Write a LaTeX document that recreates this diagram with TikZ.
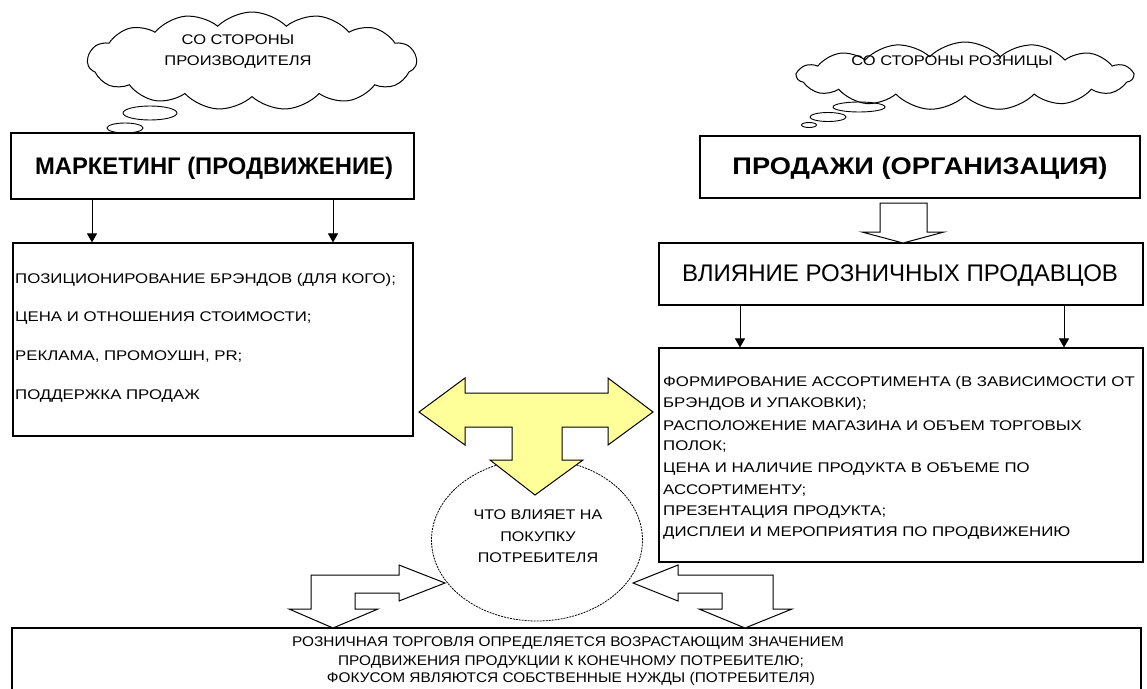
\documentclass[tikz,border=0pt]{standalone}
\usepackage{fontspec}
\setmainfont{Liberation Sans}
\usepackage{graphicx}
\usetikzlibrary{shapes.symbols,shapes.geometric,arrows.meta,calc}
\newcommand\hx[2]{\scalebox{#1}[1]{#2}}
\definecolor{lyellow}{HTML}{FFFF99}
\begin{document}
\begin{tikzpicture}[x=1pt,y=-1pt,
  box/.style={draw, line width=1.1pt, inner sep=0pt, fill=white},
  sm/.style={font=\fontsize{14}{16}\selectfont, inner sep=0pt},
  lft/.style={sm, anchor=west},
  arr/.style={line width=1pt, -{Triangle[width=10pt,length=9pt]}},
  hollow/.style={draw, line width=1pt, fill=white, line join=miter},
  thought/.style={cloud, draw, line width=1pt, cloud puffs=15, cloud puff arc=90, cloud ignores aspect, inner sep=0pt},
  bub/.style={draw, line width=0.9pt}
]
\useasboundingbox (0,0) rectangle (1147,688);
\clip (0,0) rectangle (1147,688);
\fill[white] (0,0) rectangle (1147,688);

% clouds
\node[thought, minimum width=329pt, minimum height=98pt] (c1) at (252,61) {};
\node[sm] (c1a) at (238,40) {\hx{1.18}{СО СТОРОНЫ}};
\node[sm] (c1b) at (238,62) {\hx{1.18}{ПРОИЗВОДИТЕЛЯ}};
\draw[bub] (150,113) ellipse [x radius=27, y radius=7];
\draw[bub] (125,128) ellipse [x radius=18, y radius=5];
\draw[bub] (109,135) ellipse [x radius=8, y radius=2.5];

\node[thought, minimum width=336pt, minimum height=68pt] (c2) at (965,76) {};
\node[sm] (c2a) at (952,62) {\hx{1.18}{СО СТОРОНЫ РОЗНИЦЫ}};
\draw[bub] (859,107) ellipse [x radius=26, y radius=5];
\draw[bub] (828,117) ellipse [x radius=18, y radius=4.5];
\draw[bub] (809,125) ellipse [x radius=7.5, y radius=2.5];

% main boxes
\node[box, minimum width=403pt, minimum height=66pt] (mark) at (212.5,166) {};
\node[inner sep=0pt] (markt) at (214,168) {\resizebox{358pt}{\height}{\fontsize{24}{27}\selectfont\bfseries МАРКЕТИНГ (ПРОДВИЖЕНИЕ)}};

\node[box, minimum width=440pt, minimum height=62pt] (prod) at (920,167) {};
\node[inner sep=0pt] (prodt) at (920,168) {\resizebox{375pt}{\height}{\fontsize{24}{27}\selectfont\bfseries ПРОДАЖИ (ОРГАНИЗАЦИЯ)}};

\node[box, minimum width=484pt, minimum height=62pt] (vli) at (901,274) {};
\node[inner sep=0pt] (vlit) at (900,276) {\resizebox{436pt}{\height}{\fontsize{24}{27}\selectfont ВЛИЯНИЕ РОЗНИЧНЫХ ПРОДАВЦОВ}};

\node[box, minimum width=400pt, minimum height=193pt] (lbox) at (213,339.5) {};
\node[lft] (l1) at (15,280) {\hx{1.2}{ПОЗИЦИОНИРОВАНИЕ БРЭНДОВ (ДЛЯ КОГО);}};
\node[lft] (l2) at (15,318) {\hx{1.2}{ЦЕНА И ОТНОШЕНИЯ СТОИМОСТИ;}};
\node[lft] (l3) at (15,357) {\hx{1.2}{РЕКЛАМА, ПРОМОУШН, PR;}};
\node[lft] (l4) at (15,396) {\hx{1.2}{ПОДДЕРЖКА ПРОДАЖ}};

\node[box, minimum width=484pt, minimum height=214pt] (rbox) at (901,455) {};
\node[lft] (r1) at (663,383) {\hx{1.2}{ФОРМИРОВАНИЕ АССОРТИМЕНТА (В ЗАВИСИМОСТИ ОТ}};
\node[lft] (r2) at (663,404) {\hx{1.2}{БРЭНДОВ И УПАКОВКИ);}};
\node[lft] (r3) at (663,426) {\hx{1.2}{РАСПОЛОЖЕНИЕ МАГАЗИНА И ОБЪЕМ ТОРГОВЫХ}};
\node[lft] (r4) at (663,447) {\hx{1.2}{ПОЛОК;}};
\node[lft] (r5) at (663,469) {\hx{1.2}{ЦЕНА И НАЛИЧИЕ ПРОДУКТА В ОБЪЕМЕ ПО}};
\node[lft] (r6) at (663,490) {\hx{1.2}{АССОРТИМЕНТУ;}};
\node[lft] (r7) at (663,512) {\hx{1.2}{ПРЕЗЕНТАЦИЯ ПРОДУКТА;}};
\node[lft] (r8) at (663,533) {\hx{1.2}{ДИСПЛЕИ И МЕРОПРИЯТИЯ ПО ПРОДВИЖЕНИЮ}};

% bottom box
\node[box, minimum width=1129pt, minimum height=80pt] (bbox) at (576.5,668) {};
\node[sm] (b1) at (568,643) {\hx{1.1}{РОЗНИЧНАЯ ТОРГОВЛЯ ОПРЕДЕЛЯЕТСЯ ВОЗРАСТАЮЩИМ ЗНАЧЕНИЕМ}};
\node[sm] (b2) at (571,662) {\hx{1.1}{ПРОДВИЖЕНИЯ ПРОДУКЦИИ К КОНЕЧНОМУ ПОТРЕБИТЕЛЮ;}};
\node[sm] (b3) at (571,679) {\hx{1.1}{ФОКУСОМ ЯВЛЯЮТСЯ СОБСТВЕННЫЕ НУЖДЫ (ПОТРЕБИТЕЛЯ)}};

% ellipse
\node[ellipse, draw, line width=0.8pt, dash pattern=on 2pt off 1pt, minimum width=211pt, minimum height=162pt, inner sep=0pt] (q) at (537,540) {};
\node[sm] (q1) at (538,515) {\hx{1.15}{ЧТО ВЛИЯЕТ НА}};
\node[sm] (q2) at (538,537) {\hx{1.15}{ПОКУПКУ}};
\node[sm] (q3) at (538,558) {\hx{1.15}{ПОТРЕБИТЕЛЯ}};

% thin arrows
\coordinate (xa) at (92,0);
\coordinate (xb) at (333,0);
\coordinate (xc) at (740,0);
\coordinate (xd) at (1064,0);
\draw[arr] (xa |- mark.south) -- (xa |- lbox.north);
\draw[arr] (xb |- mark.south) -- (xb |- lbox.north);
\draw[arr] (xc |- vli.south) -- (xc |- rbox.north);
\draw[arr] (xd |- vli.south) -- (xd |- rbox.north);

% hollow arrow prod -> vli
\draw[hollow] (880,203) -- (880,232) -- (862,232) -- (903,243) -- (944,232) -- (927,232) -- (927,203) -- cycle;

% yellow T arrow
\draw[line width=1pt, fill=lyellow, line join=miter]
 (419,412) -- (465,378) -- (465,393) -- (608,393) -- (608,378) -- (653,412)
 -- (608,445) -- (608,427) -- (562,427) -- (562,460) -- (583,460) -- (535,495)
 -- (490,460) -- (512,460) -- (512,427) -- (465,427) -- (465,445) -- cycle;

% bottom hollow bent arrows
\draw[hollow] (445,583) -- (399,565) -- (399,575) -- (311,575) -- (311,609) -- (289,609)
 -- (333,628) -- (378,609) -- (355,609) -- (355,593) -- (399,593) -- (399,601) -- cycle;
\draw[hollow] (633,583) -- (678,565) -- (678,575) -- (773,575) -- (773,609) -- (792,609)
 -- (745,628) -- (699,609) -- (722,609) -- (722,593) -- (678,593) -- (678,601) -- cycle;
\end{tikzpicture}
\end{document}
